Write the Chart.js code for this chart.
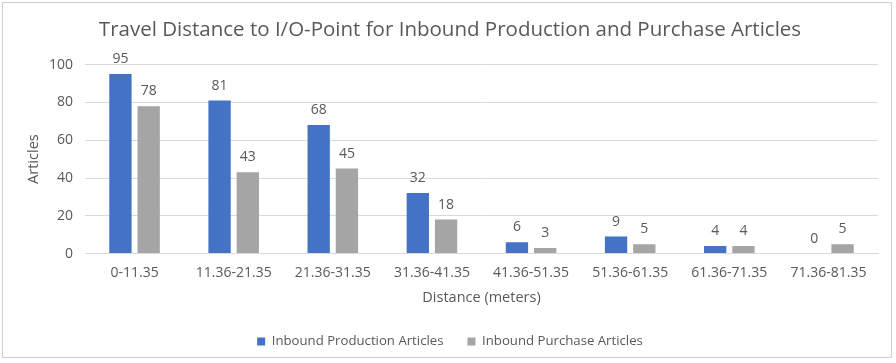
<!DOCTYPE html>
<html>
<head>
<meta charset="utf-8">
<script src="https://cdn.jsdelivr.net/npm/chart.js@4/dist/chart.umd.min.js"></script>
<style>
  html, body { margin: 0; padding: 0; background: #ffffff; }
  #frame {
    position: absolute; left: 2px; top: 2px; width: 890px; height: 356px;
    border: 1px solid #d0d0d0; box-sizing: border-box;
  }
  #wrap { position: absolute; left: 0; top: 0; width: 896px; height: 363px; }
</style>
</head>
<body>
<div id="frame"></div>
<div id="wrap"><canvas id="c" width="896" height="363"></canvas></div>
<script>
// Distance bands from the I/O point
const categories = ['0-11.35', '11.36-21.35', '21.36-31.35', '31.36-41.35',
                    '41.36-51.35', '51.36-61.35', '61.36-71.35', '71.36-81.35'];
// Article counts per band
const productionArticles = [95, 81, 68, 32, 6, 9, 4, 0];
const purchaseArticles   = [78, 43, 45, 18, 3, 5, 4, 5];
// Value axis ticks
const yTicks = [0, 20, 40, 60, 80, 100];

const FONT = "'Open Sans', 'Noto Sans', sans-serif";
const TEXT = '#595959';

// Writes each bar's value just above it
const valueLabels = {
  id: 'valueLabels',
  afterDatasetsDraw(chart) {
    const ctx = chart.ctx;
    ctx.save();
    ctx.font = `14px ${FONT}`;
    ctx.fillStyle = TEXT;
    ctx.textAlign = 'center';
    ctx.textBaseline = 'alphabetic';
    chart.data.datasets.forEach((ds, i) => {
      chart.getDatasetMeta(i).data.forEach((bar, j) => {
        ctx.fillText(String(ds.data[j]), bar.x, bar.y - 11);
      });
    });
    ctx.restore();
  }
};

new Chart(document.getElementById('c'), {
  type: 'bar',
  data: {
    labels: categories,
    datasets: [
      { label: 'Inbound Production Articles', data: productionArticles,
        backgroundColor: '#4472C4', barPercentage: 0.79, categoryPercentage: 0.57 },
      { label: 'Inbound Purchase Articles', data: purchaseArticles,
        backgroundColor: '#A5A5A5', barPercentage: 0.79, categoryPercentage: 0.57 }
    ]
  },
  options: {
    responsive: false,
    animation: false,
    layout: { padding: { left: 22, right: 18, top: 8, bottom: 5 } },
    plugins: {
      title: {
        display: true,
        text: 'Travel Distance to I/O-Point for Inbound Production and Purchase Articles',
        color: TEXT,
        font: { family: FONT, size: 20.5, weight: 'normal' },
        padding: { top: 10, bottom: 22 }
      },
      legend: {
        position: 'bottom',
        labels: {
          color: TEXT,
          font: { family: FONT, size: 13.2 },
          boxWidth: 8, boxHeight: 8, padding: 24
        }
      },
      tooltip: { enabled: false }
    },
    scales: {
      x: {
        grid: { display: false },
        border: { color: '#D9D9D9' },
        ticks: { color: TEXT, font: { family: FONT, size: 14 }, maxRotation: 0 },
        title: { display: true, text: 'Distance (meters)', color: TEXT,
                 font: { family: FONT, size: 14.5 }, padding: { top: 5 } }
      },
      y: {
        min: 0, max: 100,
        afterBuildTicks(axis) { axis.ticks = yTicks.map(v => ({ value: v })); },
        afterFit(axis) { axis.width = 63; },
        grid: { color: '#D9D9D9', drawTicks: false },
        border: { display: false },
        ticks: { color: TEXT, font: { family: FONT, size: 14 }, padding: 12 },
        title: { display: true, text: 'Articles', color: TEXT,
                 font: { family: FONT, size: 14.5 }, padding: { top: 3 } }
      }
    }
  },
  plugins: [valueLabels]
});
</script>
</body>
</html>
